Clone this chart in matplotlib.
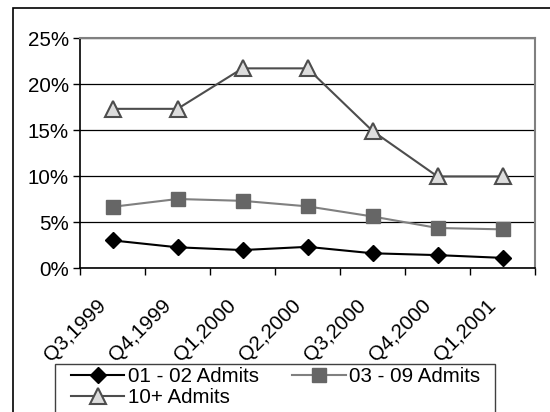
import matplotlib
matplotlib.use("Agg")
import matplotlib.pyplot as plt
from matplotlib.patches import Rectangle
from matplotlib.ticker import FuncFormatter, MultipleLocator
from matplotlib.transforms import ScaledTranslation

plt.rcParams["font.family"] = ["Liberation Sans", "DejaVu Sans"]

quarters = ["Q3,1999", "Q4,1999", "Q1,2000", "Q2,2000", "Q3,2000", "Q4,2000", "Q1,2001"]
admits_01_02 = [3.0, 2.25, 1.95, 2.3, 1.6, 1.4, 1.1]
admits_03_09 = [6.65, 7.5, 7.3, 6.7, 5.6, 4.35, 4.2]
admits_10_plus = [17.3, 17.3, 21.7, 21.7, 14.9, 9.95, 9.95]

W, H = 550, 412
fig = plt.figure(figsize=(W / 100, H / 100), dpi=100)
ax = fig.add_axes([80 / W, 1 - 268 / H, 455 / W, 230 / H])

fs = 14.8
x = range(len(quarters))
l1, = ax.plot(x, admits_01_02, "-D", color="black", lw=1.5, ms=8, mfc="black", mec="black",
              label="01 - 02 Admits", zorder=5)
l2, = ax.plot(x, admits_03_09, "-s", color="#808080", lw=1.5, ms=10, mfc="#666666", mec="#666666",
              label="03 - 09 Admits", zorder=4)
l3, = ax.plot(x, admits_10_plus, "-^", color="#4d4d4d", lw=1.5, ms=11, mfc="#dddddd", mec="#4d4d4d",
              mew=1.5, label="10+ Admits", zorder=3)

ax.set_xlim(-0.5, len(quarters) - 0.5)
ax.set_ylim(0, 25)
ax.yaxis.set_major_locator(MultipleLocator(5))
ax.yaxis.set_major_formatter(FuncFormatter(lambda v, p: f"{v:.0f}%"))
ax.grid(axis="y", color="black", lw=0.9)
ax.set_axisbelow(True)

# category ticks sit between categories, labels on the categories
ax.set_xticks([i - 0.5 for i in range(len(quarters) + 1)])
ax.set_xticklabels([])
ax.set_xticks(list(x), minor=True)
ax.set_xticklabels(quarters, minor=True, rotation=45, ha="right", rotation_mode="anchor",
                   fontsize=fs)
ax.tick_params(axis="x", which="minor", length=0, pad=20)
ax.tick_params(axis="x", which="major", length=5, width=1, direction="out")
ax.tick_params(axis="y", length=5, width=1, direction="out", labelsize=fs, pad=3)
shift = ScaledTranslation(-16 / 100, 0, fig.dpi_scale_trans)
for lbl in ax.get_xticklabels(minor=True):
    lbl.set_transform(lbl.get_transform() + shift)

for side in ("top", "right"):
    ax.spines[side].set_color("#808080")
    ax.spines[side].set_linewidth(1.5)
for side in ("left", "bottom"):
    ax.spines[side].set_color("black")
    ax.spines[side].set_linewidth(1.2)

# outer chart frame (cropped on the right and bottom)
fig.patches.append(Rectangle((13 / W, -0.2), 1.5, 1.2 - 8 / H, transform=fig.transFigure,
                             fill=False, edgecolor="black", lw=1.2))
# legend frame (cropped at the bottom)
fig.patches.append(Rectangle((55 / W, -0.1), 440 / W, 0.1 + 1 - 364 / H, transform=fig.transFigure,
                             fill=False, edgecolor="#404040", lw=1.0))

# order so that the two-column legend reads row by row
fig.legend([l1, l3, l2], [l1.get_label(), l3.get_label(), l2.get_label()],
           loc="upper left", bbox_to_anchor=(71 / W, 1 - 367 / H),
           ncol=2, fontsize=fs, frameon=False, handlelength=2.6, handletextpad=0.15,
           labelspacing=0.1, borderpad=0, borderaxespad=0, columnspacing=1.65)

fig.savefig("out.png", dpi=100)
